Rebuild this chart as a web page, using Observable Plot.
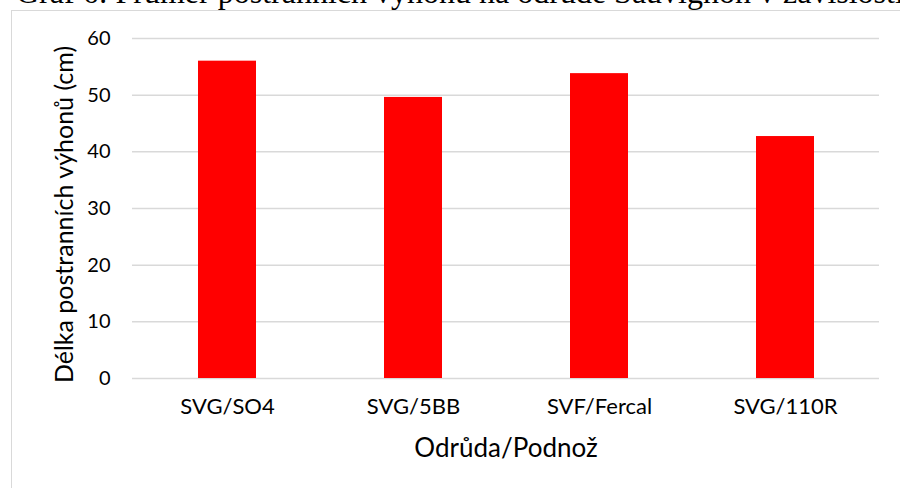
<!DOCTYPE html>
<html>
<head>
<meta charset="utf-8">
<script src="https://cdn.jsdelivr.net/npm/d3@7"></script>
<script src="https://cdn.jsdelivr.net/npm/@observablehq/plot@0.6"></script>
<style>
  html, body { margin: 0; padding: 0; background: #fff; }
  #wrap { position: relative; width: 900px; height: 488px; overflow: hidden; background: #fff; }
  #title { position: absolute; left: 16px; top: -24px; white-space: nowrap; font-family: "Liberation Serif", "DejaVu Serif", serif; font-size: 32px; line-height: 32px; color: #000; }
  #frame { position: absolute; left: 11px; top: 10px; width: 1000px; height: 1000px; border: 1.5px solid #d9d9d9; box-sizing: border-box; }
  #chart { position: absolute; left: 0; top: 0; }
</style>
</head>
<body>
<div id="wrap">
  <div id="frame"></div>
  <div id="title">Graf 6: Průměr postranních výhonů na odrůdě Sauvignon v závislosti na podnoži</div>
  <div id="chart"></div>
</div>
<script>
const categories = ["SVG/SO4", "SVG/5BB", "SVF/Fercal", "SVG/110R"];
const values = [56.0, 49.6, 53.8, 42.7];
const yTicks = [0, 10, 20, 30, 40, 50, 60];
const yTitle = "Délka postranních výhonů (cm)";
const xTitle = "Odrůda/Podnož";

const data = categories.map((c, i) => ({cat: c, val: values[i]}));
const font = "Lato, 'Open Sans', sans-serif";

const plot = Plot.plot({
  width: 900,
  height: 488,
  marginTop: 38,
  marginBottom: 110,
  marginLeft: 132,
  marginRight: 21,
  style: {fontFamily: font, fontSize: "20px", color: "#000", background: "transparent"},
  x: {domain: categories, paddingInner: 0.69, paddingOuter: 0.345, label: null},
  y: {domain: [0, 60], ticks: yTicks, label: null},
  marks: [
    Plot.gridY(yTicks, {stroke: "#d9d9d9", strokeOpacity: 1, strokeWidth: 1.5}),
    Plot.barY(data, {x: "cat", y: "val", fill: "#ff0000"}),
    Plot.axisY(yTicks, {tickSize: 0, tickPadding: 22, fontSize: 20, fill: "#000", label: null}),
    Plot.axisX({tickSize: 0, tickPadding: 20, fontSize: 22, fill: "#000", label: null}),
    Plot.text([yTitle], {frameAnchor: "left", rotate: -90, dx: -68, dy: 6, fontSize: 25, fill: "#000", textAnchor: "middle", lineAnchor: "middle"}),
    Plot.text([xTitle], {frameAnchor: "bottom", dy: 70, fontSize: 26, fill: "#000", textAnchor: "middle", lineAnchor: "middle"})
  ]
});
document.getElementById("chart").appendChild(plot);
</script>
</body>
</html>
